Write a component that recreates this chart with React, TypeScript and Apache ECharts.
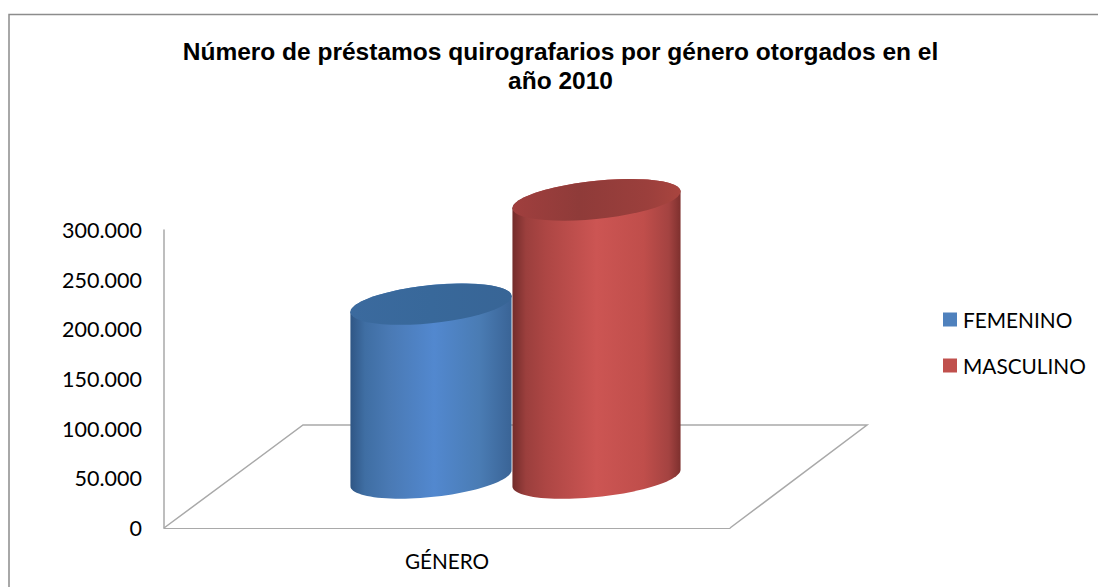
import React, { useEffect, useRef } from "react";
import * as echarts from "echarts";

const titleText = "Número de préstamos quirografarios por género otorgados en el\naño 2010";
const categories = ["GÉNERO"];
const seriesNames = ["FEMENINO", "MASCULINO"];
const femenino = [175000];
const masculino = [280000];
const yTicks = { min: 0, max: 300000, interval: 50000 };

const LABEL_FONT = "Lato, Carlito, sans-serif";
const AXIS_GRAY = "#a9a9a9";
const DEPTH_X = 139;
const DEPTH_Y = 103;
const BASE_LIFT = 50;
const TILT = (6 * Math.PI) / 180;
const MINOR = 19;
const STEPS = 48;

const fmt = (v: number) => String(v).replace(/\B(?=(\d{3})+(?!\d))/g, ".");

function arc(cx: number, cy: number, major: number, from: number, to: number) {
  const pts: number[][] = [];
  for (let i = 0; i <= STEPS; i++) {
    const t = from + ((to - from) * i) / STEPS;
    pts.push([
      cx + major * Math.cos(t) * Math.cos(TILT) + MINOR * Math.sin(t) * Math.sin(TILT),
      cy - major * Math.cos(t) * Math.sin(TILT) + MINOR * Math.sin(t) * Math.cos(TILT),
    ]);
  }
  return pts;
}

function cylinder(offset: number, major: number, side: any, top: any) {
  return (_params: any, api: any) => {
    const zero = api.coord([api.value(0), 0]);
    const head = api.coord([api.value(0), api.value(1)]);
    const cx = zero[0] + offset;
    const topY = head[1] - BASE_LIFT;
    const botY = zero[1] - BASE_LIFT;
    const t0 = Math.atan((MINOR / major) * Math.tan(TILT));
    const lower = arc(cx, botY, major, t0, t0 + Math.PI);
    const upper = arc(cx, topY, major, t0 + Math.PI, t0 + 2 * Math.PI);
    const lid = arc(cx, topY, major, t0, t0 + 2 * Math.PI);
    return {
      type: "group",
      children: [
        { type: "polygon", shape: { points: lower.concat(upper) }, style: { fill: side } },
        { type: "polygon", shape: { points: lid }, style: { fill: top } },
      ],
    };
  };
}

const grad = (stops: [number, string][]) =>
  new echarts.graphic.LinearGradient(0, 0, 1, 0, stops.map(([offset, color]) => ({ offset, color })));

const blueSide = grad([
  [0, "#2f5685"],
  [0.09, "#3f6ea3"],
  [0.25, "#4a7ab5"],
  [0.52, "#5288cf"],
  [0.8, "#4a7cb4"],
  [1, "#3a6496"],
]);
const blueTop = grad([
  [0, "#3b6a9e"],
  [0.5, "#38689a"],
  [1, "#386596"],
]);
const redSide = grad([
  [0, "#732c2b"],
  [0.08, "#9b3f3d"],
  [0.2, "#ad4644"],
  [0.5, "#cc5553"],
  [0.78, "#c04e4b"],
  [0.93, "#a44341"],
  [1, "#7e302e"],
]);
const redTop = grad([
  [0, "#a03f3e"],
  [0.4, "#8f3b39"],
  [0.8, "#9b3f3c"],
  [1, "#a9453f"],
]);

export default function App() {
  const ref = useRef<HTMLDivElement>(null);
  useEffect(() => {
    const chart = echarts.init(ref.current!, null, { renderer: "svg" });
    chart.setOption({
      animation: false,
      backgroundColor: "#ffffff",
      title: {
        text: titleText,
        left: 555.5,
        top: 32,
        textAlign: "center",
        textStyle: {
          fontFamily: "'Liberation Sans', Arial, sans-serif",
          fontWeight: "bold",
          fontSize: 24.5,
          lineHeight: 29,
          color: "#000000",
        },
      },
      legend: {
        data: seriesNames,
        orient: "vertical",
        left: 943,
        top: 309,
        padding: 0,
        itemWidth: 14,
        itemHeight: 14,
        itemGap: 25,
        icon: "rect",
        textStyle: { fontFamily: LABEL_FONT, fontSize: 20.8, color: "#000000", padding: [0, 0, 0, 1] },
      },
      grid: { left: 164, top: 230, width: 566, height: 298, containLabel: false },
      xAxis: {
        type: "category",
        data: categories,
        axisLine: { lineStyle: { color: AXIS_GRAY, width: 1 } },
        axisTick: { show: false },
        axisLabel: { fontFamily: LABEL_FONT, fontSize: 20.7, color: "#000000", margin: 22 },
      },
      yAxis: {
        type: "value",
        min: yTicks.min,
        max: yTicks.max,
        interval: yTicks.interval,
        axisLine: { show: true, lineStyle: { color: AXIS_GRAY, width: 1.5 } },
        axisTick: { show: false },
        splitLine: { show: false },
        axisLabel: { fontFamily: LABEL_FONT, fontSize: 21.5, color: "#000000", margin: 22, formatter: fmt },
      },
      series: [
        {
          type: "custom",
          name: "suelo",
          silent: true,
          clip: false,
          data: [[0, 0]],
          renderItem: (params: any) => {
            const { x, y, width, height } = params.coordSys;
            const y0 = y + height;
            return {
              type: "polyline",
              shape: {
                points: [
                  [x, y0],
                  [x + DEPTH_X, y0 - DEPTH_Y],
                  [x + width + DEPTH_X - 2, y0 - DEPTH_Y],
                  [x + width, y0],
                ],
              },
              style: { fill: "none", stroke: AXIS_GRAY, lineWidth: 1.5 },
            };
          },
        },
        {
          type: "custom",
          name: seriesNames[0],
          clip: false,
          itemStyle: { color: "#4f81bd" },
          encode: { x: 0, y: 1 },
          data: femenino.map((v, i) => [i, v]),
          renderItem: cylinder(-16, 81, blueSide, blueTop),
        },
        {
          type: "custom",
          name: seriesNames[1],
          clip: false,
          itemStyle: { color: "#c0504d" },
          encode: { x: 0, y: 1 },
          data: masculino.map((v, i) => [i, v]),
          renderItem: cylinder(149.5, 84.5, redSide, redTop),
        },
      ],
      graphic: [
        {
          type: "polyline",
          shape: { points: [[9, 587], [9, 14.5], [1098, 14.5]] },
          style: { fill: "none", stroke: "#8c8c8c", lineWidth: 1.5 },
          silent: true,
        },
      ],
    });
    return () => chart.dispose();
  }, []);
  return <div ref={ref} style={{ position: "fixed", left: 0, top: 0, width: 1098, height: 587 }} />;
}
